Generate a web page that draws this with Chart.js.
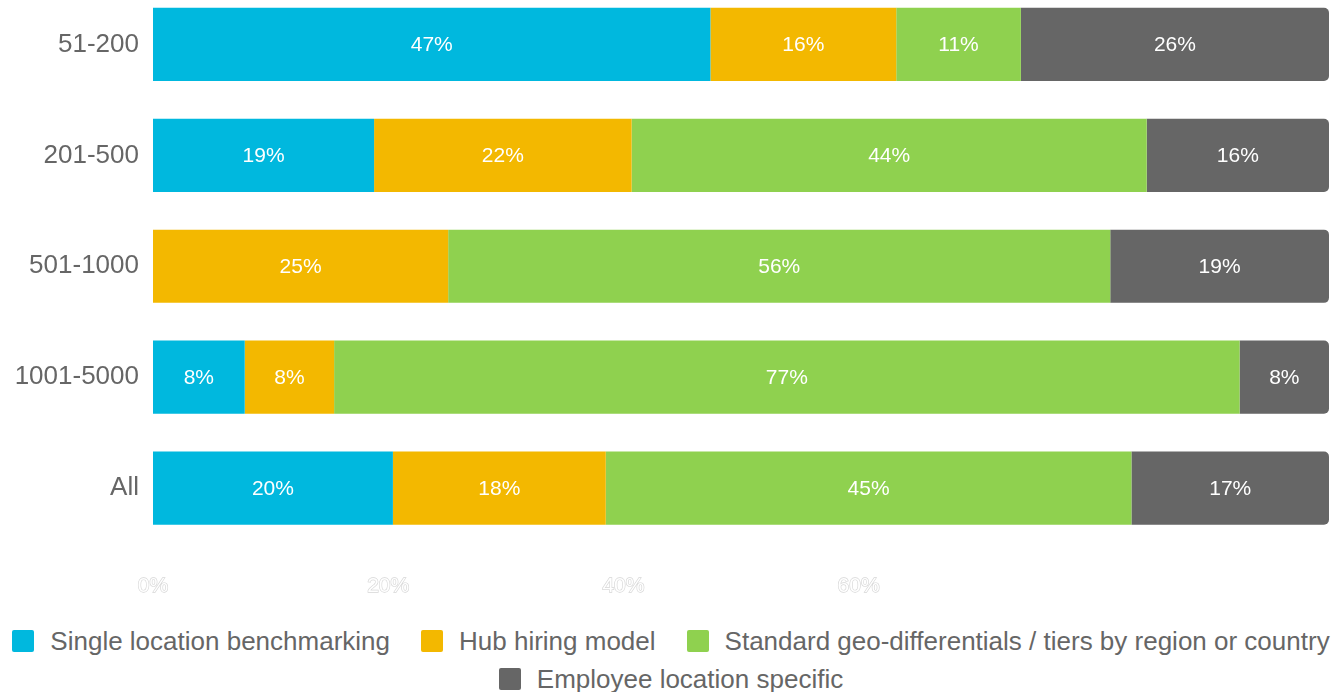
<!DOCTYPE html>
<html>
<head>
<meta charset="utf-8">
<script src="https://cdn.jsdelivr.net/npm/chart.js@4.4.0/dist/chart.umd.min.js"></script>
<style>
  html, body { margin: 0; padding: 0; background: #fff; overflow: hidden; }
  #wrap { position: relative; width: 1332px; height: 692px; }
  #box { position: absolute; left: 0; top: -11px; width: 1332px; height: 610px; }
  #legend {
    position: absolute; left: 0; top: 622px; width: 1342px;
    display: flex; flex-wrap: wrap; justify-content: center; column-gap: 31px;
    font-family: "Liberation Sans", Arial, sans-serif; font-size: 26px; color: #666;
    line-height: 38px;
  }
  .item { display: flex; align-items: center; white-space: nowrap; }
  .sw { width: 22px; height: 22px; border-radius: 2px; margin-right: 16px; }
</style>
</head>
<body>
<div id="wrap">
  <div id="box"><canvas id="myChart"></canvas></div>
  <div id="legend"></div>
</div>
<script>
// categories and series (percent of respondents)
const categories = ['51-200', '201-500', '501-1000', '1001-5000', 'All'];
const seriesNames = ['Single location benchmarking', 'Hub hiring model', 'Standard geo-differentials / tiers by region or country', 'Employee location specific'];
const singleLocation = [47.4, 18.8, 0, 7.8, 20.4];
const hubHiring = [15.8, 21.9, 25.1, 7.6, 18.1];
const geoTiers = [10.6, 43.8, 56.3, 77.0, 44.7];
const employeeSpecific = [26.2, 15.5, 18.6, 7.6, 16.8];
const xTicks = [0, 20, 40, 60];
const colors = ['#00b8de', '#f3b800', '#8fd14f', '#666666'];

const allSeries = [singleLocation, hubHiring, geoTiers, employeeSpecific];

let dataset = [];
for (let i = 0; i < allSeries.length; i++) {
    dataset.push({
        label: seriesNames[i],
        data: allSeries[i],
        backgroundColor: colors[i],
        borderWidth: 0,
        borderRadius: i === allSeries.length - 1 ? {topRight: 5, bottomRight: 5, topLeft: 0, bottomLeft: 0} : 0,
        borderSkipped: false,
        categoryPercentage: 1,
        barPercentage: 0.66
    });
}

// labels inside the segments
const segLabels = {
    id: 'segLabels',
    afterDatasetsDraw(chart) {
        const ctx = chart.ctx;
        ctx.save();
        ctx.font = '21px "Liberation Sans", Arial, sans-serif';
        ctx.fillStyle = '#fff';
        ctx.textAlign = 'center';
        ctx.textBaseline = 'middle';
        chart.data.datasets.forEach((ds, di) => {
            const meta = chart.getDatasetMeta(di);
            meta.data.forEach((bar, j) => {
                const v = ds.data[j];
                if (!v) return;
                const p = bar.getProps(['x', 'y', 'base'], true);
                ctx.fillText(Math.round(v) + '%', (p.x + p.base) / 2, p.y + 1);
            });
        });
        ctx.restore();
    }
};

const ctx = document.getElementById('myChart').getContext('2d');
const myChart = new Chart(ctx, {
    type: 'bar',
    data: {
        labels: categories,
        datasets: dataset
    },
    plugins: [segLabels],
    options: {
        indexAxis: 'y',
        responsive: true,
        maintainAspectRatio: false,
        animation: false,
        layout: { padding: { left: 0, right: 3, top: 0, bottom: 0 } },
        plugins: {
            legend: { display: false },
            tooltip: { enabled: false }
        },
        scales: {
            x: {
                stacked: true,
                min: 0,
                max: 100,
                grid: { display: false, drawTicks: false },
                border: { display: false },
                afterBuildTicks: (s) => { s.ticks = xTicks.map(v => ({ value: v })); },
                afterFit: (s) => { s.height = 55.5; },
                ticks: {
                    padding: 30,
                    color: '#ffffff',
                    textStrokeColor: '#d6d6d6',
                    textStrokeWidth: 1.3,
                    font: { family: '"Liberation Sans", Arial, sans-serif', size: 21 },
                    callback: (v) => v + '%'
                }
            },
            y: {
                stacked: true,
                grid: { display: false, drawTicks: false },
                border: { display: false },
                afterFit: (s) => { s.width = 153; s.paddingTop = 0; s.paddingBottom = 0; },
                ticks: {
                    padding: 14,
                    color: '#666',
                    font: { family: '"Liberation Sans", Arial, sans-serif', size: 26 }
                }
            }
        }
    }
});

// legend below the chart
const legend = document.getElementById('legend');
seriesNames.forEach((name, i) => {
    const item = document.createElement('div');
    item.className = 'item';
    const sw = document.createElement('span');
    sw.className = 'sw';
    sw.style.background = colors[i];
    const txt = document.createElement('span');
    txt.textContent = name;
    item.appendChild(sw);
    item.appendChild(txt);
    legend.appendChild(item);
});
</script>
</body>
</html>
